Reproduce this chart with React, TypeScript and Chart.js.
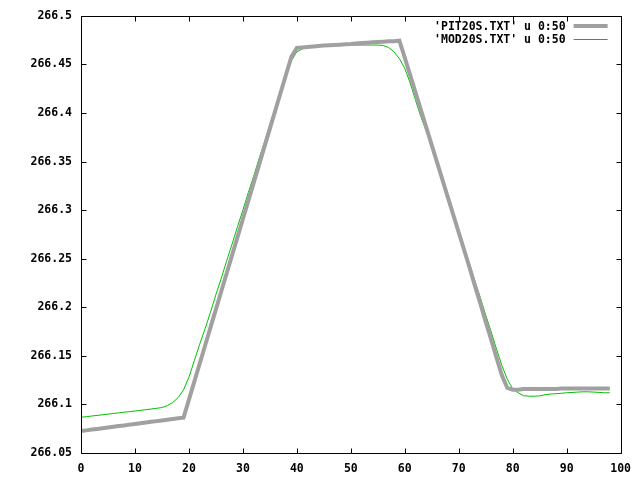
import React, { useEffect, useRef } from "react";
import { Chart, registerables } from "chart.js";

Chart.register(...registerables);

const xIndex = [
  0, 1, 2, 3, 4, 5, 6, 7, 8, 9, 10, 11, 12, 13, 14, 15, 16, 17, 18, 19,
  20, 21, 22, 23, 24, 25, 26, 27, 28, 29, 30, 31, 32, 33, 34, 35, 36, 37, 38, 39,
  40, 41, 42, 43, 44, 45, 46, 47, 48, 49, 50, 51, 52, 53, 54, 55, 56, 57, 58, 59,
  60, 61, 62, 63, 64, 65, 66, 67, 68, 69, 70, 71, 72, 73, 74, 75, 76, 77, 78, 79,
  80, 81, 82, 83, 84, 85, 86, 87, 88, 89, 90, 91, 92, 93, 94, 95, 96, 97, 98,
];

const pitValues = [
  266.0726, 266.0733, 266.0741, 266.0748, 266.0755, 266.0762, 266.0770, 266.0777, 266.0784, 266.0792,
  266.0799, 266.0806, 266.0813, 266.0821, 266.0828, 266.0835, 266.0843, 266.0850, 266.0857, 266.0863,
  266.1049, 266.1235, 266.1421, 266.1607, 266.1793, 266.1979, 266.2165, 266.2351, 266.2537, 266.2723,
  266.2909, 266.3095, 266.3281, 266.3467, 266.3653, 266.3839, 266.4025, 266.4211, 266.4397, 266.458,
  266.467, 266.4675, 266.468, 266.4685, 266.469, 266.4695, 266.4698, 266.4701, 266.4704, 266.4707,
  266.471, 266.4715, 266.472, 266.4724, 266.4728, 266.4731, 266.4735, 266.4738, 266.474, 266.4745,
  266.457, 266.439, 266.421, 266.403, 266.385, 266.367, 266.349, 266.331, 266.313, 266.295,
  266.277, 266.259, 266.241, 266.222, 266.204, 266.185, 266.167, 266.148, 266.130, 266.117,
  266.1152, 266.1152, 266.1158, 266.1158, 266.1158, 266.1158, 266.1158, 266.1158, 266.1158, 266.1165,
  266.1165, 266.1165, 266.1165, 266.1165, 266.1165, 266.1165, 266.1165, 266.1165, 266.1165,
];

const modValues = [
  266.0868, 266.0874, 266.0881, 266.0887, 266.0894, 266.0900, 266.0907, 266.0913, 266.0920, 266.0926,
  266.0932, 266.0939, 266.0946, 266.0953, 266.0960, 266.0968, 266.0988, 266.1020, 266.1070, 266.1150,
  266.128, 266.145, 266.162, 266.178, 266.195, 266.213, 266.230, 266.248, 266.265, 266.283,
  266.300, 266.318, 266.335, 266.353, 266.370, 266.388, 266.405, 266.423, 266.441, 266.454,
  266.4630, 266.4660, 266.4678, 266.4690, 266.4697, 266.4700, 266.4700, 266.4700, 266.4700, 266.4700,
  266.4700, 266.4700, 266.4700, 266.4700, 266.4700, 266.4700, 266.4695, 266.4675, 266.463, 266.456,
  266.446, 266.431, 266.413, 266.396, 266.381, 266.366, 266.349, 266.332, 266.315, 266.297,
  266.280, 266.262, 266.245, 266.227, 266.210, 266.192, 266.175, 266.157, 266.140, 266.126,
  266.116, 266.112, 266.109, 266.1085, 266.1085, 266.1088, 266.110, 266.1107, 266.111, 266.1115,
  266.112, 266.1123, 266.1127, 266.113, 266.113, 266.1127, 266.1124, 266.112, 266.112,
];

const seriesLabels = ["'PIT20S.TXT' u 0:50", "'MOD20S.TXT' u 0:50"];
const seriesColors = ["#a0a0a0", "#00c000"];
const seriesWidths = [4, 1];

const xTickValues = [0, 10, 20, 30, 40, 50, 60, 70, 80, 90, 100];
const xTickLabels = ["0", "10", "20", "30", "40", "50", "60", "70", "80", "90", "100"];
const yTickValues = [266.05, 266.1, 266.15, 266.2, 266.25, 266.3, 266.35, 266.4, 266.45, 266.5];
const yTickLabels = ["266.05", "266.1", "266.15", "266.2", "266.25", "266.3", "266.35", "266.4", "266.45", "266.5"];

const FONT_FAMILY = "'DejaVu Sans Mono', 'Liberation Mono', monospace";
const FONT_SIZE = 11.5;

const framePlugin = {
  id: "gnuplotFrame",
  afterDatasetsDraw(chart: any) {
    const { ctx, chartArea, scales } = chart;
    const { left, right, top, bottom } = chartArea;
    const tick = 5;
    const L = Math.round(left) + 0.5;
    const R = Math.round(right) + 0.5;
    const T = Math.round(top) + 0.5;
    const B = Math.round(bottom) + 0.5;
    ctx.save();
    ctx.strokeStyle = "#000000";
    ctx.lineWidth = 1;
    ctx.beginPath();
    ctx.rect(L, T, R - L, B - T);
    xTickValues.forEach((v) => {
      const px = Math.round(scales.x.getPixelForValue(v)) + 0.5;
      ctx.moveTo(px, B);
      ctx.lineTo(px, B - tick);
      ctx.moveTo(px, T);
      ctx.lineTo(px, T + tick);
    });
    yTickValues.forEach((v) => {
      const py = Math.round(scales.y.getPixelForValue(v)) + 0.5;
      ctx.moveTo(L, py);
      ctx.lineTo(L + tick, py);
      ctx.moveTo(R, py);
      ctx.lineTo(R - tick, py);
    });
    ctx.stroke();

    // legend (gnuplot style: right-aligned text, sample line on the right)
    ctx.font = `bold ${FONT_SIZE}px ${FONT_FAMILY}`;
    ctx.textAlign = "right";
    ctx.textBaseline = "middle";
    chart.data.datasets.forEach((ds: any, i: number) => {
      const y = Math.round(top + 10 + i * 13);
      ctx.fillStyle = "#000000";
      ctx.fillText(ds.label, right - 55, y + 1);
      ctx.strokeStyle = ds.borderColor;
      ctx.lineWidth = ds.borderWidth;
      const off = ds.borderWidth % 2 ? 0.5 : 0;
      ctx.beginPath();
      ctx.moveTo(right - 47, y + off);
      ctx.lineTo(right - 13, y + off);
      ctx.stroke();
    });
    ctx.restore();
  },
};

export default function App() {
  const canvasRef = useRef<HTMLCanvasElement | null>(null);

  useEffect(() => {
    if (!canvasRef.current) return;
    const datasets = [pitValues, modValues].map((vals, i) => ({
      label: seriesLabels[i],
      data: xIndex.map((x, j) => ({ x, y: vals[j] })),
      borderColor: seriesColors[i],
      backgroundColor: seriesColors[i],
      borderWidth: seriesWidths[i],
      pointRadius: 0,
      tension: 0,
      fill: false,
      borderJoinStyle: "miter" as const,
    }));

    const chart = new Chart(canvasRef.current, {
      type: "line",
      data: { datasets },
      options: {
        responsive: false,
        animation: false,
        events: [],
        layout: { padding: { top: 14, right: 17, left: 0, bottom: 0 } },
        plugins: {
          legend: { display: false },
          tooltip: { enabled: false },
        },
        scales: {
          x: {
            type: "linear",
            min: 0,
            max: 100,
            afterBuildTicks: (s: any) => {
              s.ticks = xTickValues.map((v) => ({ value: v }));
            },
            afterFit: (s: any) => {
              s.height = 27;
            },
            grid: { display: false, drawTicks: false },
            border: { display: false },
            ticks: {
              padding: 9,
              color: "#000000",
              maxRotation: 0,
              autoSkip: false,
              font: { family: FONT_FAMILY, size: FONT_SIZE, weight: "bold" },
              callback: (_v: any, i: number) => xTickLabels[i],
            },
          },
          y: {
            type: "linear",
            min: 266.05,
            max: 266.5,
            afterBuildTicks: (s: any) => {
              s.ticks = yTickValues.map((v) => ({ value: v }));
            },
            afterFit: (s: any) => {
              s.width = 81;
            },
            grid: { display: false, drawTicks: false },
            border: { display: false },
            ticks: {
              padding: 9,
              color: "#000000",
              autoSkip: false,
              font: { family: FONT_FAMILY, size: FONT_SIZE, weight: "bold" },
              callback: (_v: any, i: number) => yTickLabels[i],
            },
          },
        },
      },
      plugins: [framePlugin],
    });
    return () => chart.destroy();
  }, []);

  return (
    <div style={{ position: "fixed", left: 0, top: 0, width: 640, height: 480, background: "#ffffff" }}>
      <canvas ref={canvasRef} width={640} height={480} style={{ display: "block" }} />
    </div>
  );
}
